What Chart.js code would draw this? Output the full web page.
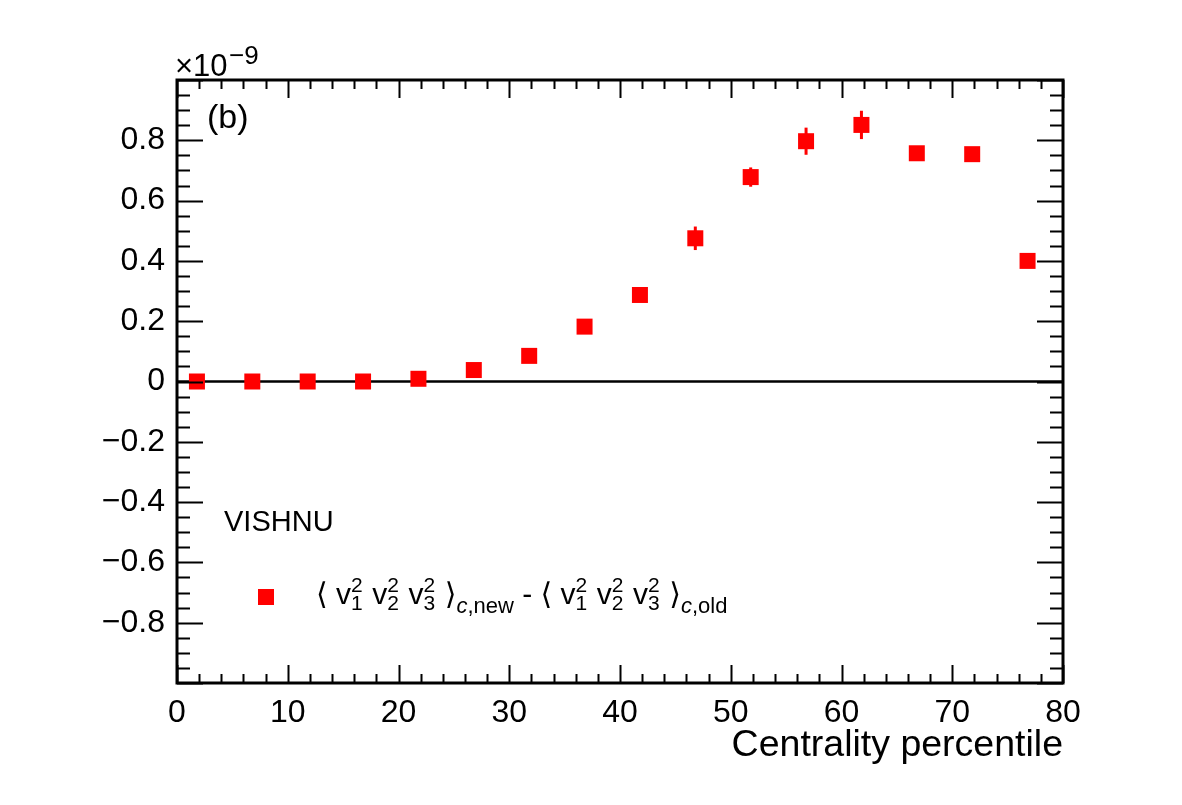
<!DOCTYPE html>
<html lang="en">

<head>
    <meta charset="UTF-8">
    <title>VISHNU centrality difference</title>
    <script src="https://cdn.jsdelivr.net/npm/chart.js"></script>
    <style>
        html, body { margin: 0; padding: 0; background: #ffffff; }
        #grafico { display: block; }
    </style>
</head>

<body>
    <canvas id="grafico" width="1182" height="805"></canvas>

    <script>
        // dados (em unidades de 10^-9)
        const centralidade = [1.8, 6.8, 11.8, 16.8, 21.8, 26.8, 31.8, 36.8, 41.8, 46.8, 51.8, 56.8, 61.8, 66.8, 71.8, 76.8]
        const diferenca = [0.0, 0.0, 0.0, 0.0, 0.009, 0.038, 0.085, 0.182, 0.287, 0.475, 0.678, 0.797, 0.851, 0.757, 0.754, 0.40]
        const erros = [0.003, 0.003, 0.003, 0.003, 0.004, 0.006, 0.008, 0.010, 0.012, 0.039, 0.032, 0.045, 0.047, 0.012, 0.014, 0.010]
        const linhaZeroX = [0, 80]
        const ticksX = [0, 10, 20, 30, 40, 50, 60, 70, 80]
        const ticksY = [-0.8, -0.6, -0.4, -0.2, 0, 0.2, 0.4, 0.6, 0.8]

        const fonte = "'Liberation Sans', Arial, 'DejaVu Sans', sans-serif"
        const vermelho = '#ff0000'

        const pontos = centralidade.map((c, i) => ({ x: c, y: diferenca[i] }))

        // barras de erro, desenhadas antes dos marcadores
        const barrasErro = {
            id: 'barrasErro',
            beforeDatasetsDraw(chart) {
                const { ctx, scales: { x, y } } = chart
                ctx.save()
                ctx.strokeStyle = vermelho
                ctx.lineWidth = 3
                for (let i = 0; i < centralidade.length; i++) {
                    const px = x.getPixelForValue(centralidade[i])
                    ctx.beginPath()
                    ctx.moveTo(px, y.getPixelForValue(diferenca[i] - erros[i]))
                    ctx.lineTo(px, y.getPixelForValue(diferenca[i] + erros[i]))
                    ctx.stroke()
                }
                ctx.restore()
            }
        }

        // desenha texto com sobrescritos / subscritos
        function textoComposto(ctx, x, base, partes) {
            let cx = x
            for (const p of partes) {
                if (p.pilha) {
                    ctx.font = `21px ${fonte}`
                    const w = Math.max(ctx.measureText(p.sup).width, ctx.measureText(p.sub).width)
                    ctx.fillText(p.sup, cx, base - 12)
                    ctx.fillText(p.sub, cx, base + 6)
                    cx += w + 1.2
                } else {
                    ctx.font = `${p.italico ? 'italic ' : ''}${p.tam}px ${fonte}`
                    ctx.fillText(p.t, cx, base + (p.dy || 0))
                    cx += ctx.measureText(p.t).width
                }
            }
            return cx
        }

        const moldura = {
            id: 'moldura',
            afterDraw(chart) {
                const { ctx, chartArea: { left, right, top, bottom }, scales: { x, y } } = chart
                ctx.save()
                ctx.strokeStyle = '#000'
                ctx.lineWidth = 2

                // ticks internos no eixo x (baixo e cima)
                for (let i = 0; i <= 40; i++) {
                    const v = i * 2
                    const px = Math.round(x.getPixelForValue(v)) + 0.5
                    const len = v % 10 === 0 ? 18 : 9
                    ctx.beginPath()
                    ctx.moveTo(px, bottom); ctx.lineTo(px, bottom - len)
                    ctx.moveTo(px, top); ctx.lineTo(px, top + len)
                    ctx.stroke()
                }
                // ticks internos no eixo y (esquerda e direita)
                for (let i = 0; i <= 40; i++) {
                    const v = -1 + i * 0.05
                    const py = Math.round(y.getPixelForValue(v)) + 0.5
                    const len = i % 4 === 0 ? 26 : 13
                    ctx.beginPath()
                    ctx.moveTo(left, py); ctx.lineTo(left + len, py)
                    ctx.moveTo(right, py); ctx.lineTo(right - len, py)
                    ctx.stroke()
                }
                ctx.lineWidth = 3
                ctx.strokeRect(left, top, right - left, bottom - top)

                // textos
                ctx.fillStyle = '#000'
                ctx.textBaseline = 'alphabetic'
                ctx.textAlign = 'left'

                ctx.font = `31px ${fonte}`
                ctx.fillText('\u00d710', 175, 76)
                ctx.font = `26px ${fonte}`
                ctx.fillText('\u22129', 229, 64)

                ctx.font = `34px ${fonte}`
                ctx.fillText('(b)', 207, 128)

                ctx.font = `29px ${fonte}`
                ctx.fillText('VISHNU', 224, 531)

                ctx.textAlign = 'right'
                ctx.font = `37.5px ${fonte}`
                ctx.fillText('Centrality percentile', right, 756)

                // legenda
                ctx.textAlign = 'left'
                ctx.fillStyle = vermelho
                ctx.fillRect(258, 589, 16, 16)
                ctx.fillStyle = '#000'
                const base = 604
                const bloco = [
                    { t: '\u27e8 v', tam: 30 }, { pilha: true, sup: '2', sub: '1' },
                    { t: ' v', tam: 30 }, { pilha: true, sup: '2', sub: '2' },
                    { t: ' v', tam: 30 }, { pilha: true, sup: '2', sub: '3' },
                    { t: ' \u27e9', tam: 30 }
                ]
                textoComposto(ctx, 316, base, [
                    ...bloco,
                    { t: 'c', tam: 22, dy: 9, italico: true }, { t: ',new', tam: 22, dy: 9 },
                    { t: ' - ', tam: 30 },
                    ...bloco,
                    { t: 'c', tam: 22, dy: 9, italico: true }, { t: ',old', tam: 22, dy: 9 }
                ])
                ctx.restore()
            }
        }

        new Chart(document.getElementById('grafico'), {
            type: 'scatter',
            data: {
                datasets: [
                    {
                        label: 'diferenca',
                        data: pontos,
                        backgroundColor: vermelho,
                        borderColor: vermelho,
                        borderWidth: 0,
                        pointStyle: 'rect',
                        pointRadius: 8 * Math.SQRT2,
                        pointHoverRadius: 8 * Math.SQRT2,
                        order: 1
                    },
                    {
                        type: 'line',
                        label: 'zero',
                        data: linhaZeroX.map(v => ({ x: v, y: 0 })),
                        borderColor: '#000',
                        borderWidth: 2.5,
                        pointRadius: 0,
                        fill: false,
                        order: 2
                    }
                ]
            },
            options: {
                responsive: false,
                animation: false,
                events: [],
                layout: { padding: { left: 0, top: 80, right: 119, bottom: 0 } },
                plugins: {
                    legend: { display: false },
                    tooltip: { enabled: false }
                },
                scales: {
                    x: {
                        type: 'linear',
                        min: 0,
                        max: 80,
                        afterFit: s => { s.height = 122 },
                        afterBuildTicks: s => { s.ticks = ticksX.map(v => ({ value: v })) },
                        grid: { display: false, drawTicks: false },
                        border: { display: false },
                        ticks: {
                            color: '#000',
                            padding: 11,
                            maxRotation: 0,
                            font: { size: 32, family: fonte }
                        }
                    },
                    y: {
                        type: 'linear',
                        min: -1,
                        max: 1,
                        afterFit: s => { s.width = 177 },
                        afterBuildTicks: s => { s.ticks = ticksY.map(v => ({ value: v })) },
                        grid: { display: false, drawTicks: false },
                        border: { display: false },
                        ticks: {
                            color: '#000',
                            padding: 12,
                            font: { size: 32, family: fonte },
                            callback: v => {
                                const r = Math.round(v * 10) / 10
                                if (r === 0) return '0'
                                return (r < 0 ? '\u2212' : '') + Math.abs(r).toFixed(1)
                            }
                        }
                    }
                }
            },
            plugins: [barrasErro, moldura]
        })
    </script>
</body>

</html>
